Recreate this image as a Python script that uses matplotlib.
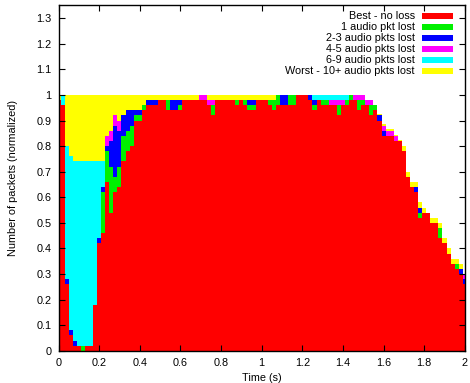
import numpy as np
import matplotlib
matplotlib.use("Agg")
import matplotlib.pyplot as plt
from matplotlib.patches import Rectangle

plt.rcParams["font.family"] = ["Liberation Sans", "DejaVu Sans"]

OUTPUT_FILE = "out.png"

# time bins (s), one box every 20 ms
time_s = np.round(np.arange(0, 2.001, 0.02), 2)

best = [.98, .96, .26, .06, .02, .02, 0, .02, .02, .18,
        .42, .46, .66, .54, .62, .64, .74, .78, .80, .90,
        .90, .94, .96, .96, .96, .98, .98, .94, .94, .94,
        .94, .98, .98, .98, .98, .98, .98, .96, .92, .98,
        .98, .98, .98, .98, .96, .98, .96, .94, .94, .98,
        .98, .98, .96, .94, .96, .96, .96, .96, .96, 1.0,
        1.0, 1.0, .98, .94, .98, .96, .96, .96, .96, .92,
        .96, .96, .98, .98, .94, .96, .96, .92, .94, .90,
        .84, .84, .84, .82, .82, .78, .68, .64, .62, .52,
        .54, .54, .50, .50, .44, .42, .38, .34, .32, .30,
        .26]

lost_1 = [0, 0, 0, 0, 0, 0, .02, 0, 0, 0,
          0, .16, .12, .18, .06, .08, .10, .08, .08, .02,
          .02, .02, 0, 0, 0, 0, 0, .04, 0, 0,
          .02, 0, 0, 0, 0, 0, 0, 0, .04, 0,
          0, 0, 0, 0, .02, 0, .02, .02, .02, 0,
          0, 0, .02, .04, .04, 0, 0, .04, .04, 0,
          0, 0, 0, .02, 0, .02, .02, 0, 0, .04,
          0, .02, .02, 0, .04, .02, 0, .04, .02, 0,
          0, 0, 0, 0, 0, 0, 0, 0, 0, .02,
          0, 0, 0, 0, .04, 0, 0, 0, .02, 0,
          0]

lost_2_3 = [0, 0, .02, .02, .02, 0, 0, 0, 0, 0,
            .02, .02, .02, .10, .20, .14, .08, .08, .06, .02,
            .02, 0, .02, .02, .02, 0, 0, 0, .04, .04,
            .02, 0, 0, 0, 0, 0, 0, 0, 0, 0,
            0, 0, 0, 0, 0, 0, 0, .02, .02, 0,
            0, 0, 0, 0, 0, .04, .04, 0, 0, 0,
            0, 0, .02, .02, 0, 0, 0, 0, 0, 0,
            0, 0, 0, 0, 0, 0, 0, 0, 0, .02,
            .02, 0, 0, 0, 0, 0, 0, 0, .02, .02,
            0, 0, 0, 0, 0, 0, 0, 0, 0, .02,
            .02]

lost_4_5 = [0, 0, 0, 0, 0, 0, 0, 0, 0, 0,
            0, 0, .04, .04, .04, .04, 0, 0, 0, 0,
            0, 0, 0, 0, 0, 0, 0, 0, 0, 0,
            0, 0, 0, 0, 0, .02, .02, .02, .02, 0,
            0, 0, 0, 0, 0, 0, 0, 0, 0, 0,
            0, 0, 0, 0, 0, 0, 0, 0, 0, 0,
            0, 0, 0, 0, 0, 0, 0, .02, .02, .02,
            .02, 0, 0, .02, .02, .02, .02, .02, 0, 0,
            .02, .02, .02, .02, 0, 0, 0, 0, 0, 0,
            0, 0, 0, 0, 0, 0, 0, 0, 0, 0,
            .02]

lost_6_9 = [0, .04, .52, .68, .70, .72, .72, .72, .72, .56,
            .30, .10, 0, 0, 0, 0, 0, 0, 0, 0,
            0, 0, 0, 0, 0, 0, 0, 0, 0, 0,
            0, 0, 0, 0, 0, 0, 0, 0, 0, 0,
            0, 0, 0, 0, 0, 0, 0, 0, 0, 0,
            0, 0, 0, 0, 0, 0, 0, 0, 0, 0,
            0, 0, 0, .02, .02, .02, .02, .02, .02, .02,
            .02, .02, 0, 0, 0, 0, 0, 0, 0, 0,
            0, 0, 0, 0, 0, 0, 0, 0, 0, 0,
            0, 0, 0, 0, 0, 0, 0, 0, 0, 0,
            0]

lost_10_plus = [.02, 0, .20, .24, .26, .26, .26, .26, .26, .26,
                .26, .26, .16, .14, .08, .10, .08, .06, .06, .06,
                .06, .04, .02, .02, .02, .02, .02, .02, .02, .02,
                .02, .02, .02, .02, .02, 0, 0, .02, .02, .02,
                .02, .02, .02, .02, .02, .02, .02, .02, .02, .02,
                .02, .02, .02, .02, 0, 0, 0, 0, 0, 0,
                0, 0, 0, 0, 0, 0, 0, 0, 0, 0,
                0, 0, 0, 0, 0, 0, 0, 0, 0, .005,
                .005, .005, .005, .005, .005, .02, .02, .02, .02, .02,
                .02, 0, .02, .02, .02, .02, .02, .02, .02, .02,
                0]

series = [best, lost_1, lost_2_3, lost_4_5, lost_6_9, lost_10_plus]
labels = ["Best - no loss", "1 audio pkt lost", "2-3 audio pkts lost",
          "4-5 audio pkts lost", "6-9 audio pkts lost",
          "Worst - 10+ audio pkts lost"]
colors = ["#ff0000", "#00f000", "#0000ff", "#ff00ff", "#00ffff", "#ffff00"]


def main():
    fig = plt.figure(figsize=(4.7, 3.83), dpi=100)
    ax = fig.add_axes([0.1245, 0.084, 0.8645, 0.902])

    bottom = np.zeros(len(time_s))
    for values, color in zip(series, colors):
        values = np.array(values)
        ax.bar(time_s, values, width=0.02, bottom=bottom, color=color,
               linewidth=0, antialiased=False, align="center")
        bottom += values

    ax.set_xlim(0, 2)
    ax.set_ylim(0, 1.35)
    ax.set_xticks(np.arange(0, 2.01, 0.2))
    ax.set_yticks(np.arange(0, 1.31, 0.1))
    ax.set_xticklabels(["%g" % round(t, 1) for t in ax.get_xticks()])
    ax.set_yticklabels(["%g" % round(t, 1) for t in ax.get_yticks()])
    ax.tick_params(direction="in", length=4, width=0.8, top=True, right=True,
                   labelsize=7.8, pad=5)
    for spine in ax.spines.values():
        spine.set_linewidth(1.0)

    ax.set_xlabel("Time (s)", fontsize=7.8, labelpad=4)
    ax.set_ylabel("Number of packets (normalized)", fontsize=7.8, labelpad=13)

    # gnuplot style key: text right aligned, colour sample on the right
    for i, (label, color) in enumerate(zip(labels, colors)):
        y = 0.970 - i * 0.0319
        ax.text(0.877, y, label, transform=ax.transAxes, ha="right",
                va="center", fontsize=7.8)
        ax.add_patch(Rectangle((0.894, y - 0.0087), 0.076, 0.0174,
                               transform=ax.transAxes, facecolor=color,
                               edgecolor="none"))

    fig.savefig(OUTPUT_FILE, dpi=100)
    plt.close(fig)


if __name__ == "__main__":
    main()
